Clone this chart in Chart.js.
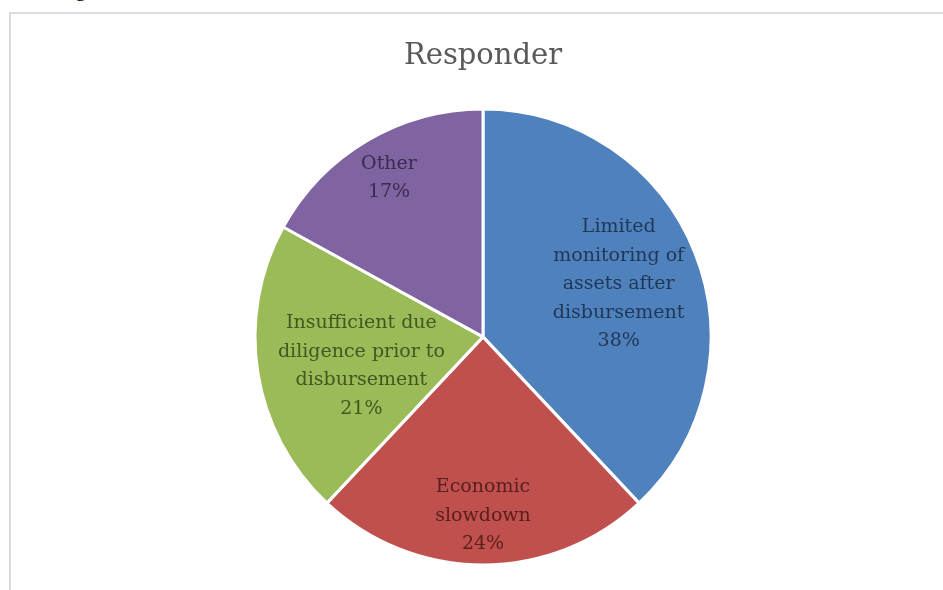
<!DOCTYPE html>
<html>
<head>
<meta charset="utf-8">
<script src="https://cdn.jsdelivr.net/npm/chart.js@4"></script>
<style>
  html, body { margin: 0; padding: 0; background: #fff; overflow: hidden; }
  #frame { position: absolute; left: 9px; top: 12px; right: 0; bottom: 0;
           border-left: 2px solid #dcdcdc; border-top: 2px solid #dcdcdc; }
  #cut { position: absolute; left: 75px; top: -24px; font: 22px "Liberation Serif", serif; color: #000; }
  canvas { position: absolute; left: 0; top: 0; }
</style>
</head>
<body>
<div id="cut">g</div>
<div id="frame"></div>
<canvas id="pieChart" width="943" height="590"></canvas>
<script>
// Slices, clockwise from 12 o'clock
const categories = [
    ["Limited", "monitoring of", "assets after", "disbursement"],
    ["Economic", "slowdown"],
    ["Insufficient due", "diligence prior to", "disbursement"],
    ["Other"]
];
const values = [38, 24, 21, 17];
const sliceColors = ["#4F81BD", "#C0504D", "#9BBB59", "#8064A2"];
const textColors = ["#1F3858", "#5A201E", "#435721", "#3A2B50"];

// label distance from centre (fraction of radius) and small vertical nudge
const labelRadius = [0.64, 0.785, 0.54, 0.81];
const labelNudgeY = [1, 0, 10, 0];

const sliceLabels = {
    id: "sliceLabels",
    afterDatasetsDraw(chart) {
        const ctx = chart.ctx;
        const meta = chart.getDatasetMeta(0);
        ctx.save();
        ctx.font = '19px "DejaVu Serif", serif';
        ctx.textAlign = "center";
        ctx.textBaseline = "middle";
        meta.data.forEach((arc, i) => {
            const mid = (arc.startAngle + arc.endAngle) / 2;
            const r = arc.outerRadius * labelRadius[i];
            const cx = arc.x + Math.cos(mid) * r;
            const cy = arc.y + Math.sin(mid) * r + labelNudgeY[i];
            const lines = categories[i].concat([values[i] + "%"]);
            const step = 28.5;
            const top = cy - (lines.length - 1) * step / 2;
            ctx.fillStyle = textColors[i];
            lines.forEach((t, k) => ctx.fillText(t, cx, top + k * step));
        });
        ctx.restore();
    }
};

new Chart(document.getElementById("pieChart"), {
    type: "pie",
    data: {
        labels: categories,
        datasets: [{
            data: values,
            backgroundColor: sliceColors,
            borderColor: "#ffffff",
            borderWidth: 3,
            hoverOffset: 0,
            radius: 228
        }]
    },
    options: {
        responsive: false,
        animation: false,
        events: [],
        layout: { padding: { top: 0, left: 23, right: 0, bottom: 27 } },
        plugins: {
            legend: { display: false },
            tooltip: { enabled: false },
            title: {
                display: true,
                text: "Responder",
                color: "#595959",
                font: { family: '"DejaVu Serif", serif', size: 29, weight: "normal", lineHeight: 1.2 },
                padding: { top: 39, bottom: 37 }
            }
        }
    },
    plugins: [sliceLabels]
});
</script>
</body>
</html>
